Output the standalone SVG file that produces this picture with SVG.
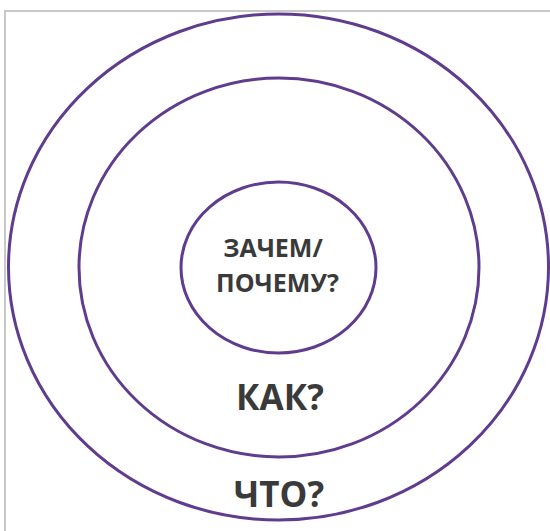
<svg xmlns="http://www.w3.org/2000/svg" width="550" height="531" viewBox="0 0 550 531">
<style>
.ring{fill:none;stroke:#5f3c8e;stroke-width:3}
.lbl{font-family:"Open Sans","Liberation Sans",sans-serif;font-weight:bold;fill:#3a3a3a;text-anchor:middle}
</style>
<rect x="0" y="0" width="550" height="531" fill="#ffffff"/>
<rect x="5" y="11" width="560" height="540" fill="none" stroke="#c8c8c8" stroke-width="2"/>
<g id="outer">
<ellipse class="ring" cx="278.5" cy="267" rx="270" ry="253"/>
<text class="lbl" x="279" y="507" font-size="35">ЧТО?</text>
</g>
<g id="middle">
<ellipse class="ring" cx="279" cy="267.5" rx="200" ry="189.5"/>
<text class="lbl" x="280" y="410" font-size="35">КАК?</text>
</g>
<g id="inner">
<ellipse class="ring" cx="278.5" cy="267.5" rx="97.5" ry="85.5"/>
<text class="lbl" x="273" y="257" font-size="25">ЗАЧЕМ/</text>
<text class="lbl" x="277.5" y="292" font-size="25">ПОЧЕМУ?</text>
</g>
<g id="connectors"/>
</svg>
